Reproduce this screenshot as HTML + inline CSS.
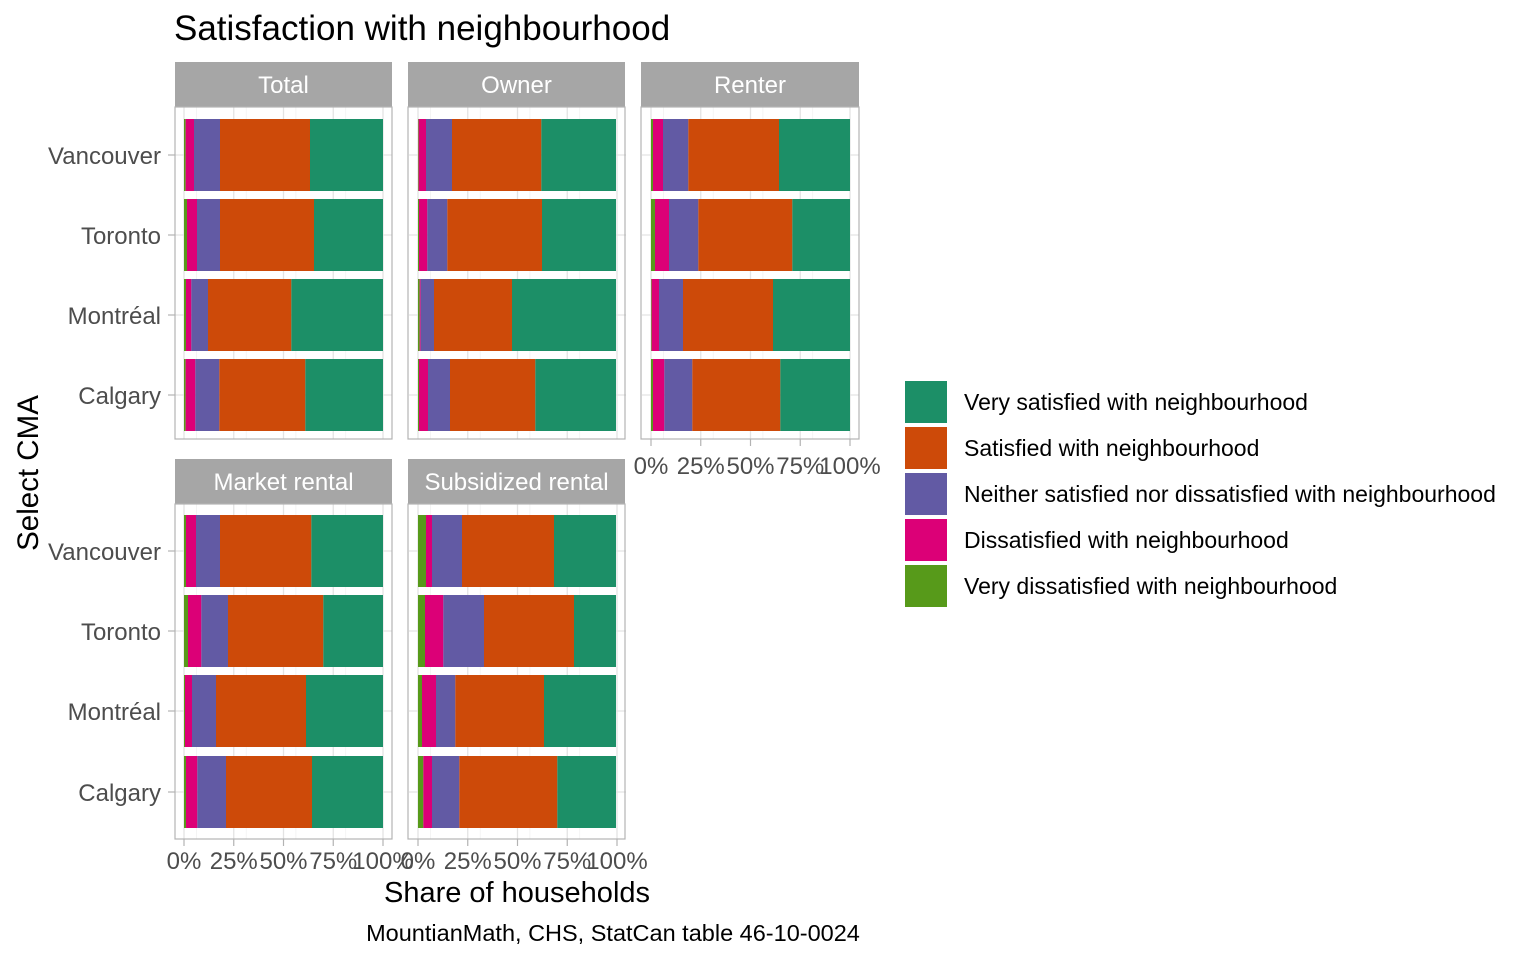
<!DOCTYPE html>
<html><head><meta charset="utf-8"><style>
body{margin:0;background:#fff}
svg{display:block;font-family:"Liberation Sans",Arial,sans-serif}
.a{fill:#1C8F67}.b{fill:#CD4A09}.c{fill:#625AA4}.d{fill:#DC0077}.e{fill:#579A1A}
.mn{stroke:#f0f0f0;stroke-width:0.7}.mj{stroke:#e3e3e3;stroke-width:1.3}
.yl{font-size:24px;fill:#4d4d4d;text-anchor:end}
.xl{font-size:24px;fill:#4d4d4d;text-anchor:middle}
.st{font-size:24px;fill:#fff;text-anchor:middle}
.lg{font-size:23px;fill:#000}
</style></head><body>
<svg width="1536" height="960" viewBox="0 0 1536 960" xmlns="http://www.w3.org/2000/svg">
<defs>
<g id="vt">
<line class="mn" x1="12.44" x2="12.44" y1="107" y2="439"/><line class="mn" x1="62.2" x2="62.2" y1="107" y2="439"/><line class="mn" x1="111.9" x2="111.9" y1="107" y2="439"/><line class="mn" x1="161.7" x2="161.7" y1="107" y2="439"/>
<line class="mj" x1="0" x2="0" y1="107" y2="439"/><line class="mj" x1="49.75" x2="49.75" y1="107" y2="439"/><line class="mj" x1="99.5" x2="99.5" y1="107" y2="439"/><line class="mj" x1="149.25" x2="149.25" y1="107" y2="439"/><line class="mj" x1="199" x2="199" y1="107" y2="439"/>
<line class="mj" x1="-9" x2="208" y1="155" y2="155"/><line class="mj" x1="-9" x2="208" y1="235" y2="235"/><line class="mj" x1="-9" x2="208" y1="315" y2="315"/><line class="mj" x1="-9" x2="208" y1="395" y2="395"/>
</g>
<g id="vb">
<line class="mn" x1="12.44" x2="12.44" y1="504" y2="839"/><line class="mn" x1="62.2" x2="62.2" y1="504" y2="839"/><line class="mn" x1="111.9" x2="111.9" y1="504" y2="839"/><line class="mn" x1="161.7" x2="161.7" y1="504" y2="839"/>
<line class="mj" x1="0" x2="0" y1="504" y2="839"/><line class="mj" x1="49.75" x2="49.75" y1="504" y2="839"/><line class="mj" x1="99.5" x2="99.5" y1="504" y2="839"/><line class="mj" x1="149.25" x2="149.25" y1="504" y2="839"/><line class="mj" x1="199" x2="199" y1="504" y2="839"/>
<line class="mj" x1="-9" x2="208" y1="551" y2="551"/><line class="mj" x1="-9" x2="208" y1="631" y2="631"/><line class="mj" x1="-9" x2="208" y1="711" y2="711"/><line class="mj" x1="-9" x2="208" y1="792" y2="792"/>
</g>
</defs>
<text x="174" y="40" font-size="35" fill="#000">Satisfaction with neighbourhood</text>

<rect x="175" y="62" width="217" height="45" fill="#a6a6a6"/>
<rect x="408" y="62" width="217" height="45" fill="#a6a6a6"/>
<rect x="641" y="62" width="218" height="45" fill="#a6a6a6"/>
<rect x="175" y="459" width="217" height="45" fill="#a6a6a6"/>
<rect x="408" y="459" width="217" height="45" fill="#a6a6a6"/>
<text class="st" x="283.5" y="93">Total</text>
<text class="st" x="516.5" y="93">Owner</text>
<text class="st" x="750" y="93">Renter</text>
<text class="st" x="283.5" y="490">Market rental</text>
<text class="st" x="516.5" y="490">Subsidized rental</text>

<use href="#vt" x="184"/><use href="#vt" x="418"/><use href="#vt" x="651"/>
<use href="#vb" x="184"/><use href="#vb" x="418"/>

<g transform="translate(170,0) scale(0.33333,1)">
<rect class="e" x="42" y="119" width="5" height="72"/><rect class="d" x="47" y="119" width="25" height="72"/><rect class="c" x="72" y="119" width="78" height="72"/><rect class="b" x="150" y="119" width="270" height="72"/><rect class="a" x="420" y="119" width="219" height="72"/>
<rect class="e" x="42" y="199" width="9" height="72"/><rect class="d" x="51" y="199" width="30" height="72"/><rect class="c" x="81" y="199" width="69" height="72"/><rect class="b" x="150" y="199" width="282" height="72"/><rect class="a" x="432" y="199" width="207" height="72"/>
<rect class="e" x="42" y="279" width="6" height="72"/><rect class="d" x="48" y="279" width="16" height="72"/><rect class="c" x="64" y="279" width="50" height="72"/><rect class="b" x="114" y="279" width="250" height="72"/><rect class="a" x="364" y="279" width="275" height="72"/>
<rect class="e" x="42" y="359" width="5" height="72"/><rect class="d" x="47" y="359" width="29" height="72"/><rect class="c" x="76" y="359" width="72" height="72"/><rect class="b" x="148" y="359" width="258" height="72"/><rect class="a" x="406" y="359" width="233" height="72"/>
</g>
<g transform="translate(170,0) scale(0.33333,1)">
<rect class="e" x="744" y="119" width="2" height="72"/><rect class="d" x="746" y="119" width="22" height="72"/><rect class="c" x="768" y="119" width="78" height="72"/><rect class="b" x="846" y="119" width="268" height="72"/><rect class="a" x="1114" y="119" width="224" height="72"/>
<rect class="e" x="744" y="199" width="3" height="72"/><rect class="d" x="747" y="199" width="25" height="72"/><rect class="c" x="772" y="199" width="60" height="72"/><rect class="b" x="832" y="199" width="284" height="72"/><rect class="a" x="1116" y="199" width="222" height="72"/>
<rect class="e" x="744" y="279" width="5" height="72"/><rect class="d" x="749" y="279" width="3" height="72"/><rect class="c" x="752" y="279" width="40" height="72"/><rect class="b" x="792" y="279" width="234" height="72"/><rect class="a" x="1026" y="279" width="312" height="72"/>
<rect class="e" x="744" y="359" width="3" height="72"/><rect class="d" x="747" y="359" width="27" height="72"/><rect class="c" x="774" y="359" width="66" height="72"/><rect class="b" x="840" y="359" width="256" height="72"/><rect class="a" x="1096" y="359" width="242" height="72"/>
</g>
<g transform="translate(635,0) scale(0.33333,1)">
<rect class="e" x="48" y="119" width="6" height="72"/><rect class="d" x="54" y="119" width="30" height="72"/><rect class="c" x="84" y="119" width="76" height="72"/><rect class="b" x="160" y="119" width="272" height="72"/><rect class="a" x="432" y="119" width="213" height="72"/>
<rect class="e" x="48" y="199" width="12" height="72"/><rect class="d" x="60" y="199" width="42" height="72"/><rect class="c" x="102" y="199" width="88" height="72"/><rect class="b" x="190" y="199" width="282" height="72"/><rect class="a" x="472" y="199" width="173" height="72"/>
<rect class="e" x="48" y="279" width="2" height="72"/><rect class="d" x="50" y="279" width="22" height="72"/><rect class="c" x="72" y="279" width="72" height="72"/><rect class="b" x="144" y="279" width="270" height="72"/><rect class="a" x="414" y="279" width="231" height="72"/>
<rect class="e" x="48" y="359" width="6" height="72"/><rect class="d" x="54" y="359" width="34" height="72"/><rect class="c" x="88" y="359" width="84" height="72"/><rect class="b" x="172" y="359" width="264" height="72"/><rect class="a" x="436" y="359" width="209" height="72"/>
</g>
<g transform="translate(170,0) scale(0.33333,1)">
<rect class="e" x="42" y="515" width="6" height="72"/><rect class="d" x="48" y="515" width="30" height="72"/><rect class="c" x="78" y="515" width="72" height="72"/><rect class="b" x="150" y="515" width="274" height="72"/><rect class="a" x="424" y="515" width="215" height="72"/>
<rect class="e" x="42" y="595" width="12" height="72"/><rect class="d" x="54" y="595" width="40" height="72"/><rect class="c" x="94" y="595" width="80" height="72"/><rect class="b" x="174" y="595" width="286" height="72"/><rect class="a" x="460" y="595" width="179" height="72"/>
<rect class="e" x="42" y="675" width="3" height="72"/><rect class="d" x="45" y="675" width="21" height="72"/><rect class="c" x="66" y="675" width="72" height="72"/><rect class="b" x="138" y="675" width="270" height="72"/><rect class="a" x="408" y="675" width="231" height="72"/>
<rect class="e" x="42" y="756" width="6" height="72"/><rect class="d" x="48" y="756" width="34" height="72"/><rect class="c" x="82" y="756" width="86" height="72"/><rect class="b" x="168" y="756" width="258" height="72"/><rect class="a" x="426" y="756" width="213" height="72"/>
</g>
<g transform="translate(170,0) scale(0.33333,1)">
<rect class="e" x="744" y="515" width="24" height="72"/><rect class="d" x="768" y="515" width="18" height="72"/><rect class="c" x="786" y="515" width="90" height="72"/><rect class="b" x="876" y="515" width="276" height="72"/><rect class="a" x="1152" y="515" width="186" height="72"/>
<rect class="e" x="744" y="595" width="21" height="72"/><rect class="d" x="765" y="595" width="55" height="72"/><rect class="c" x="820" y="595" width="122" height="72"/><rect class="b" x="942" y="595" width="270" height="72"/><rect class="a" x="1212" y="595" width="126" height="72"/>
<rect class="e" x="744" y="675" width="12" height="72"/><rect class="d" x="756" y="675" width="42" height="72"/><rect class="c" x="798" y="675" width="58" height="72"/><rect class="b" x="856" y="675" width="266" height="72"/><rect class="a" x="1122" y="675" width="216" height="72"/>
<rect class="e" x="744" y="756" width="16" height="72"/><rect class="d" x="760" y="756" width="26" height="72"/><rect class="c" x="786" y="756" width="82" height="72"/><rect class="b" x="868" y="756" width="294" height="72"/><rect class="a" x="1162" y="756" width="176" height="72"/>
</g>

<g fill="none" stroke="#b3b3b3" stroke-width="1.2">
<rect x="175" y="107" width="217" height="332"/><rect x="408" y="107" width="217" height="332"/><rect x="641" y="107" width="218" height="332"/>
<rect x="175" y="504" width="217" height="335"/><rect x="408" y="504" width="217" height="335"/>
</g>
<g stroke="#b3b3b3" stroke-width="1.2">
<line x1="168" x2="175" y1="155" y2="155"/><line x1="168" x2="175" y1="235" y2="235"/><line x1="168" x2="175" y1="315" y2="315"/><line x1="168" x2="175" y1="395" y2="395"/>
<line x1="168" x2="175" y1="551" y2="551"/><line x1="168" x2="175" y1="631" y2="631"/><line x1="168" x2="175" y1="711" y2="711"/><line x1="168" x2="175" y1="792" y2="792"/>
<line x1="184" x2="184" y1="839" y2="846"/><line x1="233.75" x2="233.75" y1="839" y2="846"/><line x1="283.5" x2="283.5" y1="839" y2="846"/><line x1="333.25" x2="333.25" y1="839" y2="846"/><line x1="383" x2="383" y1="839" y2="846"/>
<line x1="418" x2="418" y1="839" y2="846"/><line x1="467.75" x2="467.75" y1="839" y2="846"/><line x1="517.5" x2="517.5" y1="839" y2="846"/><line x1="567.25" x2="567.25" y1="839" y2="846"/><line x1="617" x2="617" y1="839" y2="846"/>
<line x1="651" x2="651" y1="439" y2="446"/><line x1="700.75" x2="700.75" y1="439" y2="446"/><line x1="750.5" x2="750.5" y1="439" y2="446"/><line x1="800.25" x2="800.25" y1="439" y2="446"/><line x1="850" x2="850" y1="439" y2="446"/>
</g>
<text class="yl" x="161" y="164">Vancouver</text><text class="yl" x="161" y="244">Toronto</text><text class="yl" x="161" y="324">Montréal</text><text class="yl" x="161" y="404">Calgary</text>
<text class="yl" x="161" y="560">Vancouver</text><text class="yl" x="161" y="640">Toronto</text><text class="yl" x="161" y="720">Montréal</text><text class="yl" x="161" y="801">Calgary</text>
<text class="xl" x="184" y="869">0%</text><text class="xl" x="233.75" y="869">25%</text><text class="xl" x="283.5" y="869">50%</text><text class="xl" x="333.25" y="869">75%</text><text class="xl" x="383" y="869">100%</text>
<text class="xl" x="418" y="869">0%</text><text class="xl" x="467.75" y="869">25%</text><text class="xl" x="517.5" y="869">50%</text><text class="xl" x="567.25" y="869">75%</text><text class="xl" x="617" y="869">100%</text>
<text class="xl" x="651" y="474">0%</text><text class="xl" x="700.75" y="474">25%</text><text class="xl" x="750.5" y="474">50%</text><text class="xl" x="800.25" y="474">75%</text><text class="xl" x="850" y="474">100%</text>

<text x="517" y="902" font-size="29" text-anchor="middle" fill="#000">Share of households</text>
<text transform="translate(38,473) rotate(-90)" font-size="29.5" text-anchor="middle" fill="#000">Select CMA</text>
<text x="613" y="941" font-size="23.5" text-anchor="middle" fill="#000">MountianMath, CHS, StatCan table 46-10-0024</text>

<rect class="a" x="905" y="381" width="42" height="42"/>
<rect class="b" x="905" y="427" width="42" height="42"/>
<rect class="c" x="905" y="473" width="42" height="42"/>
<rect class="d" x="905" y="519" width="42" height="42"/>
<rect class="e" x="905" y="565" width="42" height="42"/>
<text class="lg" x="964" y="410">Very satisfied with neighbourhood</text>
<text class="lg" x="964" y="456">Satisfied with neighbourhood</text>
<text class="lg" x="964" y="502">Neither satisfied nor dissatisfied with neighbourhood</text>
<text class="lg" x="964" y="548">Dissatisfied with neighbourhood</text>
<text class="lg" x="964" y="594">Very dissatisfied with neighbourhood</text>
</svg>
</body></html>
